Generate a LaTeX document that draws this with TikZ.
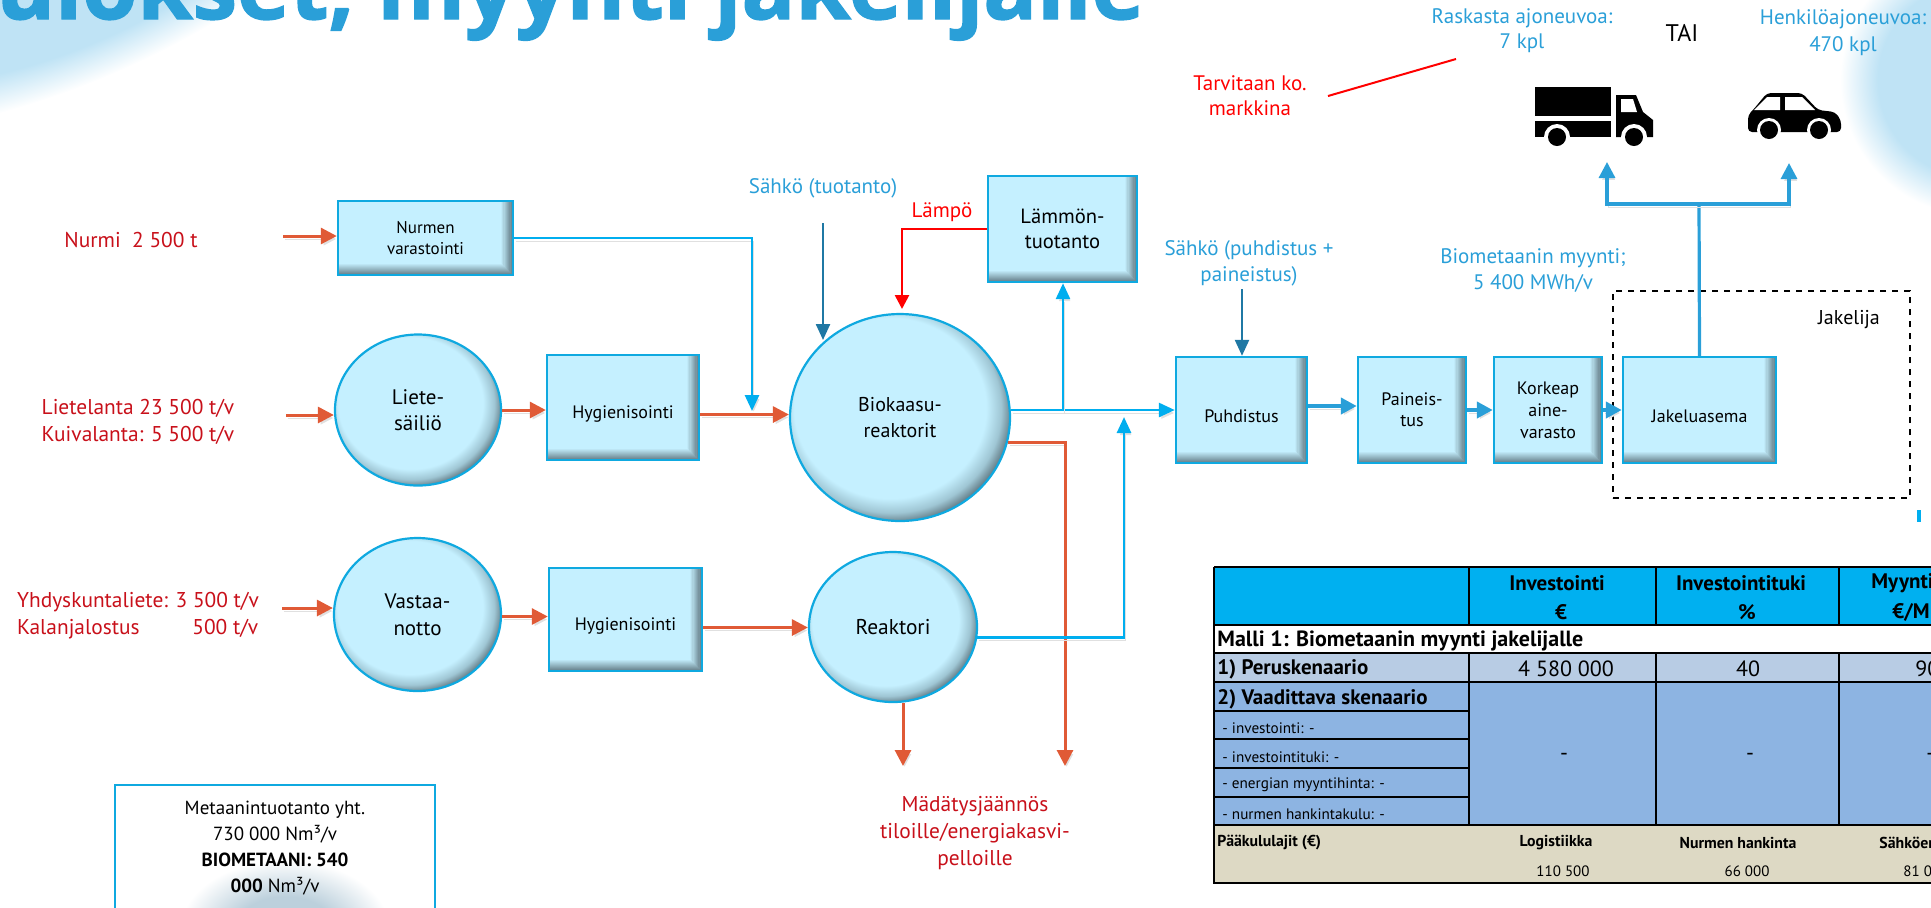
\documentclass[tikz,border=0pt]{standalone}
\usepackage{fontspec}
\setmainfont{PT Sans}
\newfontfamily\titlefont[BoldFeatures={FakeBold=1.6}]{Open Sans}
\usetikzlibrary{arrows.meta,shapes.geometric}

\definecolor{boxfill}{HTML}{C5F0FF}
\definecolor{boxmid}{HTML}{9FC6D4}
\definecolor{boxdark}{HTML}{5F7781}
\definecolor{boxline}{HTML}{0FA9E0}
\definecolor{flowred}{HTML}{E05A36}
\definecolor{wireblue}{HTML}{00AEEF}
\definecolor{gasblue}{HTML}{2A9FD8}
\definecolor{elecblue}{HTML}{1F78A4}
\definecolor{labelred}{HTML}{C8101A}
\definecolor{headblue}{HTML}{00B0F0}
\definecolor{rowblue}{HTML}{B8CCE4}
\definecolor{scenblue}{HTML}{8DB4E2}
\definecolor{rowbeige}{HTML}{DDD9C4}
\definecolor{blobblue}{HTML}{BFE3F5}
\definecolor{blobgrey}{HTML}{BCD0DC}

\pgfdeclareradialshading{tankshade}{\pgfpoint{-4bp}{4bp}}{color(0bp)=(boxfill); color(21.8bp)=(boxfill); color(25bp)=(boxmid); color(27.5bp)=(boxdark); color(50bp)=(boxdark)}
\pgfdeclareradialshading{blobshade}{\pgfpoint{0bp}{0bp}}{color(0bp)=(blobblue); color(18bp)=(blobblue); color(25bp)=(white); color(50bp)=(white)}
\pgfdeclareradialshading{greyblobshade}{\pgfpoint{0bp}{0bp}}{color(0bp)=(blobgrey); color(12bp)=(blobgrey); color(25bp)=(white); color(50bp)=(white)}

\tikzset{
  x=0.5pt, y=-0.5pt,
  unitbox/.style={rectangle, draw=boxline, line width=1.2pt, fill=boxfill, align=center, inner sep=0pt,
    font=\fontsize{9}{11}\selectfont,
    path picture={
      \foreach \k in {0,...,9} {
        \pgfmathsetmacro\mix{\k*10+5}
        \fill[boxdark!\mix!boxfill] ([xshift=-6pt+\k*0.6pt]path picture bounding box.north east)
          rectangle ([xshift=-5.4pt+\k*0.6pt]path picture bounding box.south east);
      }
      \shade[top color=boxfill, bottom color=boxdark]
        (path picture bounding box.south west) -- (path picture bounding box.south east)
        -- ([xshift=-6pt,yshift=6pt]path picture bounding box.south east)
        -- ([yshift=6pt]path picture bounding box.south west) -- cycle;
    }},
  lowbox/.style={unitbox, execute at begin node={\rule{0pt}{13pt}}},
  tank/.style={ellipse, draw=boxline, line width=1.1pt, shading=tankshade, align=center, inner sep=0pt,
    font=\fontsize{10.5}{13}\selectfont},
  linkshadow/.style={preaction={draw=black!12, transform canvas={xshift=0.8pt,yshift=-1.5pt}}},
  feedline/.style={linkshadow, draw=flowred, line width=1.5pt, -{Triangle[length=8pt,width=8pt]}},
  wireline/.style={linkshadow, draw=wireblue, line width=1.4pt, -{Triangle[length=8pt,width=7pt]}},
  gasline/.style={linkshadow, draw=gasblue, line width=2pt, -{Triangle[length=8pt,width=8pt]}},
  elecline/.style={draw=elecblue, line width=1.2pt, -{Triangle[length=8pt,width=7pt]}},
  heatline/.style={draw=red, line width=1.3pt, -{Triangle[length=7pt,width=7pt]}},
  redlabel/.style={text=labelred, align=center, font=\fontsize{10.7}{13.5}\selectfont},
  bluelabel/.style={text=gasblue, align=center, font=\fontsize{10.5}{13}\selectfont},
  headtext/.style={font=\fontsize{10.5}{12}\selectfont\bfseries},
  rowtext/.style={font=\fontsize{10.5}{12}\selectfont\bfseries, anchor=west, inner sep=0pt},
  valtext/.style={font=\fontsize{11}{13}\selectfont},
  subtext/.style={font=\fontsize{7.6}{9}\selectfont, anchor=west, inner sep=0pt},
  costtext/.style={font=\fontsize{7.9}{9}\selectfont\bfseries},
  costval/.style={font=\fontsize{7.5}{9}\selectfont},
}

\begin{document}
\begin{tikzpicture}
  \clip (0,0) rectangle (1931,907);

  % Draw the soft background patches
  \shade[shading=blobshade, transform canvas={rotate around={23:(60,-45)}}] (60,-45) ellipse (340 and 130);
  \shade[shading=blobshade] (1975,80) ellipse (135 and 135);
  \shade[shading=greyblobshade] (285,930) ellipse (105 and 70);

  % Draw the title
  \node[anchor=base west, inner sep=0pt, text=gasblue, font=\fontsize{44.6}{48}\titlefont\bfseries] (title) at (-4,19) {ulokset, myynti jakelijalle};

  % Draw the dashed distributor area
  \node[draw, dashed, line width=1pt, minimum width=148.5pt, minimum height=103.5pt, inner sep=0pt] (distarea) at (1761.5,394.5) {};
  \node[font=\fontsize{10}{12}\selectfont] (distlabel) at (1849,320) {Jakelija};
  \fill[wireblue] (1917,510) rectangle (1921,522);

  % Draw the process units
  \node[lowbox, minimum width=87.5pt, minimum height=37pt, font=\fontsize{8.5}{10.5}\selectfont] (storage) at (425.5,238) {Nurmen\\varastointi};
  \node[tank, minimum width=83pt, minimum height=75.5pt] (slurry) at (418,410) {Liete-\\säiliö};
  \node[lowbox, minimum width=76pt, minimum height=52.5pt] (hygieneA) at (623,407.5) {Hygienisointi};
  \node[tank, minimum width=110pt, minimum height=103.5pt, font=\fontsize{10}{13}\selectfont] (biogas) at (900,417.5) {Biokaasu-\\reaktorit};
  \node[unitbox, minimum width=74.5pt, minimum height=53pt, font=\fontsize{10.3}{12.5}\selectfont] (heating) at (1062.5,229) {Lämmön-\\tuotanto};
  \node[tank, minimum width=83.5pt, minimum height=76.5pt, font=\fontsize{10.5}{13.5}\selectfont] (intake) at (417.5,614.5) {Vastaa-\\notto};
  \node[lowbox, minimum width=76.5pt, minimum height=51.5pt] (hygieneB) at (625.5,619.5) {Hygienisointi};
  \node[tank, minimum width=84pt, minimum height=75pt, font=\fontsize{10.7}{13}\selectfont] (reactor) at (893,627) {Reaktori};
  \node[lowbox, minimum width=65.5pt, minimum height=53pt] (cleaning) at (1241.5,410) {Puhdistus};
  \node[lowbox, minimum width=54pt, minimum height=53pt, font=\fontsize{9}{10.5}\selectfont] (pressure) at (1412,410) {Paineis-\\tus};
  \node[lowbox, minimum width=54pt, minimum height=53pt, font=\fontsize{9}{11}\selectfont] (storeHP) at (1548,410) {Korkeap\\aine-\\varasto};
  \node[lowbox, minimum width=76.5pt, minimum height=53pt] (station) at (1699.5,410) {Jakeluasema};

  % Draw the free ends of the connectors
  \coordinate (grassIn) at (283,236);
  \coordinate (slurryIn) at (286,415);
  \coordinate (intakeIn) at (282,608);
  \coordinate (storageTurn) at (752,411);
  \coordinate (elecStart) at (823,223);
  \coordinate (heatEnd) at (902,309);
  \coordinate (fork) at (1063,411);
  \coordinate (mergeEnd) at (1124,417);
  \coordinate (digestA) at (903,766);
  \coordinate (digestB) at (1065,766);
  \coordinate (elecCleanStart) at (1242,289);
  \coordinate (split) at (1699,204);
  \coordinate (truckTip) at (1607,162);
  \coordinate (carTip) at (1789,163);
  \coordinate (markA) at (1328,96);
  \coordinate (markB) at (1456,59);

  % Draw the feedstock flows
  \draw[feedline] (grassIn) -- (grassIn -| storage.west);
  \draw[feedline] (slurryIn) -- (slurryIn -| slurry.west);
  \draw[feedline] (intakeIn) -- (intakeIn -| intake.west);
  \draw[feedline] (slurry.east) -- (slurry.east -| hygieneA.west);
  \draw[feedline] ([yshift=-3.5pt]hygieneA.east) -- ([yshift=-3.5pt]hygieneA.east -| biogas.west);
  \draw[feedline] ([yshift=-1pt]intake.east) -- ([yshift=-1pt]intake.east -| hygieneB.west);
  \draw[feedline] ([yshift=-4pt]hygieneB.east) -- ([yshift=-4pt]hygieneB.east -| reactor.west);
  \draw[feedline] (reactor.south -| digestA) -- (digestA);
  \draw[feedline] (biogas.-13) -| (digestB);

  % Draw the gas, power and heat lines
  \draw[wireline] (storage.east) -| (storageTurn);
  \draw[elecline] (elecStart) -- (elecStart |- 0,340);
  \draw[heatline] (heating.west) -| (heatEnd);
  \draw[wireline] (biogas.east |- cleaning.west) -- (cleaning.west);
  \draw[wireline] (fork) -- (fork |- heating.south);
  \draw[wireline] (reactor.-7) -| (mergeEnd);
  \draw[elecline] (elecCleanStart) -- (elecCleanStart |- cleaning.north);
  \draw[gasline] ([yshift=2pt]cleaning.east) -- ([yshift=2pt]cleaning.east -| pressure.west);
  \draw[gasline] (pressure.east) -- (storeHP.west);
  \draw[gasline] (storeHP.east) -- (station.west);
  \draw[draw=gasblue, line width=1.6pt] (station.north) -- (split);
  \draw[gasline, line width=1.6pt] (split) -| (truckTip);
  \draw[gasline, line width=1.6pt] (split) -| (carTip);
  \draw[red, line width=1pt] (markA) -- (markB);

  % Draw the truck
  \fill (1535,87) rectangle (1611,116);
  \fill (1535,121) rectangle (1611,137);
  \fill (1616,95) -- (1636,95) -- (1643,112) -- (1653,120) -- (1653,137) -- (1616,137) -- cycle;
  \fill[white] (1621,99) -- (1633,99) -- (1637,112) -- (1621,112) -- cycle;
  \foreach \wheel in {1557,1634} {
    \fill[white] (\wheel,137) circle (6.5pt);
    \fill (\wheel,137) circle (4.5pt);
  }

  % Draw the car
  \fill[rounded corners=2pt] (1748,132) -- (1748,115) -- (1753,110) -- (1767,93) -- (1802,93) -- (1818,110) -- (1835,112) -- (1841,120) -- (1841,132) -- cycle;
  \fill[white] (1754,110) -- (1767,97) -- (1780,97) -- (1780,110) -- cycle;
  \fill[white] (1785,97) -- (1802,97) -- (1815,110) -- (1785,110) -- cycle;
  \foreach \wheel in {1769,1819} {
    \fill[white] (\wheel,130) circle (6pt);
    \fill (\wheel,130) circle (4.5pt);
  }

  % Draw the red and blue labels
  \node[redlabel] (grassText) at (131,240) {Nurmi\ \ 2 500 t};
  \node[redlabel] (slurryText) at (138,422) {Lietelanta 23 500 t/v\\Kuivalanta: 5 500 t/v};
  \node[redlabel, align=left] (sludgeText) at (138,616) {Yhdyskuntaliete: 3 500 t/v\\Kalanjalostus\hspace{2.2em} 500 t/v};
  \node[text=red, font=\fontsize{10.5}{12}\selectfont] (heatText) at (942,212) {Lämpö};
  \node[redlabel] (digestText) at (975,833) {Mädätysjäännös\\tiloille/energiakasvi-\\pelloille};
  \node[text=red, align=center, font=\fontsize{10.5}{12.5}\selectfont] (marketText) at (1250,96) {Tarvitaan ko.\\markkina};
  \node[bluelabel] (elecText) at (823,188) {Sähkö (tuotanto)};
  \node[bluelabel] (cleanText) at (1249,263) {Sähkö (puhdistus +\\paineistus)};
  \node[bluelabel] (saleText) at (1533,271) {Biometaanin myynti;\\5 400 MWh/v};
  \node[bluelabel, font=\fontsize{10.5}{12.5}\selectfont] (truckText) at (1522,31) {Raskasta ajoneuvoa:\\7 kpl};
  \node[bluelabel, font=\fontsize{10.5}{13.5}\selectfont] (carText) at (1843,33) {Henkilöajoneuvoa:\\470 kpl};
  \node[font=\fontsize{12}{14}\selectfont] (orText) at (1682,33) {TAI};

  % Draw the production box
  \node[draw=boxline, line width=1pt, minimum width=160pt, minimum height=70pt, inner sep=0pt] (output) at (275,855) {};
  \node[align=center, font=\fontsize{9.5}{13}\selectfont] (outputText) at (275,848) {Metaanintuotanto yht.\\730 000 Nm³/v\\\textbf{BIOMETAANI: 540}\\\textbf{000} Nm³/v};

  % Draw the table
  \fill[headblue] (1214,567) rectangle (1931,625);
  \fill[rowblue] (1214,653) rectangle (1931,682);
  \fill[scenblue] (1214,682) rectangle (1931,825);
  \fill[rowbeige] (1214,825) rectangle (1931,883);
  \draw[line width=0.8pt] (1214,567) -- (1931,567) (1214,567) -- (1214,883) -- (1931,883);
  \foreach \y in {625,653,682,825} {
    \draw[line width=0.8pt] (1214,\y) -- (1931,\y);
  }
  \foreach \y in {711,739,768,797} {
    \draw[line width=0.8pt] (1214,\y) -- (1469,\y);
  }
  \foreach \x in {1469,1656,1839} {
    \draw[line width=0.6pt] (\x,567) -- (\x,625);
    \draw[line width=0.6pt] (\x,653) -- (\x,825);
  }
  \node[headtext] (colA) at (1557,583) {Investointi};
  \node[headtext] (colAunit) at (1561,612) {€};
  \node[headtext] (colB) at (1741,583) {Investointituki};
  \node[headtext] (colBunit) at (1747,612) {\%};
  \node[headtext, anchor=west, inner sep=0pt] (colC) at (1871,583) {Myynti};
  \node[headtext, anchor=west, inner sep=0pt] (colCunit) at (1892,612) {€/M};
  \node[rowtext, font=\fontsize{11}{13}\selectfont\bfseries] (rowModel) at (1217,641) {Malli 1: Biometaanin myynti jakelijalle};
  \node[rowtext] (rowBase) at (1217,669) {1) Peruskenaario};
  \node[rowtext] (rowNeed) at (1217,699) {2) Vaadittava skenaario};
  \node[valtext] (baseA) at (1566,669) {4 580 000};
  \node[valtext] (baseB) at (1748,669) {40};
  \node[valtext, anchor=west, inner sep=0pt] (baseC) at (1915,669) {90};
  \node[subtext] (needA) at (1222,728) {- investointi: -};
  \node[subtext] (needB) at (1222,757) {- investointituki: -};
  \node[subtext] (needC) at (1222,785) {- energian myyntihinta: -};
  \node[subtext] (needD) at (1222,814) {- nurmen hankintakulu: -};
  \node[valtext] (dashA) at (1564,757) {-};
  \node[valtext] (dashB) at (1750,757) {-};
  \node[valtext, anchor=west, inner sep=0pt] (dashC) at (1926,757) {-};
  \node[costtext, anchor=west, inner sep=0pt] (costHead) at (1217,843) {Pääkululajit (€)};
  \node[costtext] (costA) at (1556,843) {Logistiikka};
  \node[costtext] (costB) at (1738,843) {Nurmen hankinta};
  \node[costtext, anchor=west, inner sep=0pt] (costC) at (1879,843) {Sähköen};
  \node[costval] (valA) at (1563,871) {110 500};
  \node[costval] (valB) at (1747,871) {66 000};
  \node[costval, anchor=west, inner sep=0pt] (valC) at (1903,871) {81 0};

\end{tikzpicture}
\end{document}
